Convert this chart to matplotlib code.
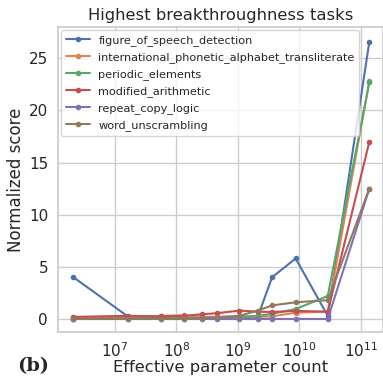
import numpy as np
import matplotlib
matplotlib.use('Agg')
import matplotlib.pyplot as plt
import seaborn as sns

# effective parameter counts of the model family
params = [2.1e6, 1.65e7, 5.6e7, 1.34e8, 2.6e8, 4.5e8, 1.05e9, 2.1e9, 3.6e9, 8.7e9, 2.9e10, 1.38e11]

tasks = ['figure_of_speech_detection',
         'international_phonetic_alphabet_transliterate',
         'periodic_elements',
         'modified_arithmetic',
         'repeat_copy_logic',
         'word_unscrambling']

figure_of_speech = [4.0, 0.2, 0.1, 0.05, 0.05, 0.05, 0.1, 0.2, 4.0, 5.8, 0.3, 26.6]
ipa_transliterate = [0.1, 0.2, 0.3, 0.35, 0.2, 0.2, 0.25, 0.2, 0.25, 0.6, 0.7, 22.8]
periodic_elements = [0.0, 0.05, 0.05, 0.1, 0.1, 0.1, 0.2, 0.3, 0.5, 0.95, 2.2, 22.7]
modified_arithmetic = [0.2, 0.3, 0.25, 0.3, 0.45, 0.55, 0.8, 0.7, 0.67, 0.77, 0.7, 17.0]
repeat_copy_logic = [0.0, 0.0, 0.0, 0.0, 0.0, 0.0, 0.0, 0.0, 0.0, 0.0, 0.0, 12.5]
word_unscrambling = [0.0, 0.0, 0.0, 0.0, 0.1, 0.15, 0.3, 0.8, 1.3, 1.6, 1.8, 12.5]

series = [figure_of_speech, ipa_transliterate, periodic_elements,
          modified_arithmetic, repeat_copy_logic, word_unscrambling]

sns.set_theme(style='whitegrid')
colors = sns.color_palette('deep')

fig = plt.figure(figsize=(3.83, 3.79), dpi=100)
ax = fig.add_axes([0.151, 0.124, 0.849, 0.805])

for name, vals, c in zip(tasks, series, colors):
    ax.plot(params, vals, '-', marker='o', markersize=3, linewidth=1.5,
            color=c, label=name)

ax.set_xscale('log')
ax.set_xlim(1.17e6, 2.3e11)
ax.set_ylim(-1.25, 28)
ax.set_yticks([0, 5, 10, 15, 20, 25])
ax.tick_params(labelsize=11, pad=1)
ax.set_xlabel('Effective parameter count', fontsize=11.8, labelpad=0)
ax.set_ylabel('Normalized score', fontsize=12, labelpad=3)
ax.set_title('Highest breakthroughness tasks', fontsize=11.8, pad=5)

ax.legend(loc='upper left', fontsize=8.1, handlelength=2.2, borderaxespad=0.3,
          labelspacing=0.55, handletextpad=0.7, framealpha=0.8)

fig.text(0.045, 0.022, '(b)', family='DejaVu Serif', fontweight='bold', fontsize=14)

fig.savefig('out.png', dpi=100)
